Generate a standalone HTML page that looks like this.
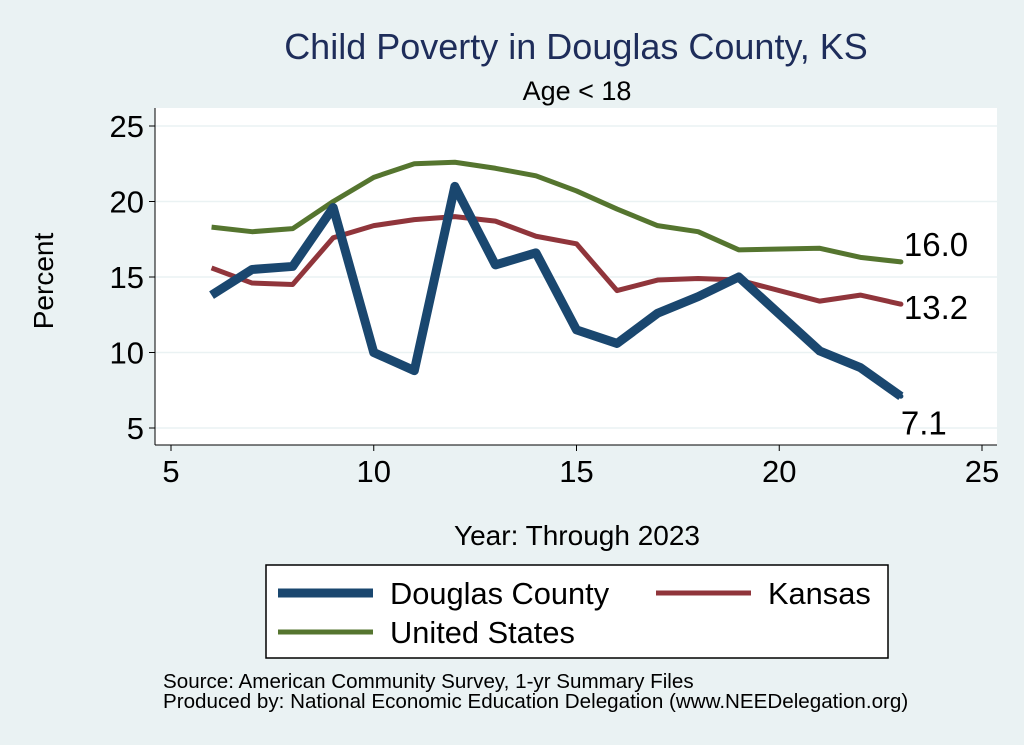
<!DOCTYPE html>
<html><head><meta charset="utf-8"><style>
body{margin:0;background:#eaf2f3;}
svg{display:block;font-family:"Liberation Sans",Arial,sans-serif;}
</style></head><body>
<svg id="chart" width="1024" height="745" viewBox="0 0 1024 745">
<rect x="0" y="0" width="1024" height="745" fill="#eaf2f3"/>
<rect x="155" y="108" width="842" height="337" fill="#ffffff"/>
<text x="576" y="59" font-size="36" fill="#1e2d5a" text-anchor="middle">Child Poverty in Douglas County, KS</text>
<text x="577" y="100" font-size="27" fill="#000" text-anchor="middle">Age &lt; 18</text>
<g id="grid"></g><g id="axes"></g><g id="series"></g>
<text x="577" y="545" font-size="28" text-anchor="middle">Year: Through 2023</text>
<text transform="translate(53,281) rotate(-90)" font-size="28" text-anchor="middle">Percent</text>
<g>
<rect x="266" y="565" width="622" height="93" fill="#fff" stroke="#000" stroke-width="1.5"/>
<line x1="278" y1="593" x2="373" y2="593" stroke="#1a476f" stroke-width="9"/>
<text x="390" y="604" font-size="30.8">Douglas County</text>
<line x1="656" y1="593" x2="751" y2="593" stroke="#90353b" stroke-width="5"/>
<text x="768" y="604" font-size="30.8">Kansas</text>
<line x1="278" y1="632" x2="373" y2="632" stroke="#55752f" stroke-width="5"/>
<text x="390" y="643" font-size="30.8">United States</text>
</g>
<text x="163" y="688" font-size="20.6">Source: American Community Survey, 1-yr Summary Files</text>
<text x="163" y="708" font-size="20.6">Produced by: National Economic Education Delegation (www.NEEDelegation.org)</text>
</svg>
<script>
const years=[6,7,8,9,10,11,12,13,14,15,16,17,18,19,21,22,23];
const douglas=[13.8,15.5,15.7,19.6,10.0,8.8,21.0,15.8,16.6,11.5,10.6,12.6,13.7,15.0,10.1,9.0,7.1];
const kansas=[15.6,14.6,14.5,17.6,18.4,18.8,19.0,18.7,17.7,17.2,14.1,14.8,14.9,14.8,13.4,13.8,13.2];
const us=[18.3,18.0,18.2,20.0,21.6,22.5,22.6,22.2,21.7,20.7,19.5,18.4,18.0,16.8,16.9,16.3,16.0];
const xTicks=[5,10,15,20,25];
const yTicks=[5,10,15,20,25];
const NS='http://www.w3.org/2000/svg';
function X(v){return 171+(v-5)*(982-171)/20;}
function Y(v){return 428-(v-5)*(428-126)/20;}
function mk(t,a,p){const e=document.createElementNS(NS,t);for(const k in a)e.setAttribute(k,a[k]);p.appendChild(e);return e;}
const grid=document.getElementById('grid'),axes=document.getElementById('axes'),ser=document.getElementById('series');
yTicks.forEach(v=>{
 const g=mk('line',{x1:155,x2:997,y1:Y(v),y2:Y(v),stroke:'#eaf2f3','stroke-width':1.5},grid);
 
 
 const t=mk('line',{x1:149,x2:155,y1:Y(v),y2:Y(v),stroke:'#000'},axes);
 
 
 const l=mk('text',{x:144,y:Y(v)+11,'font-size':31,'text-anchor':'end'},axes);l.textContent=v;
 
 
});
xTicks.forEach(v=>{
 const t=mk('line',{x1:X(v),x2:X(v),y1:445,y2:451,stroke:'#000'},axes);
 
 
 const l=mk('text',{x:X(v),y:482,'font-size':31,'text-anchor':'middle'},axes);l.textContent=v;
 
 
});
const ya=mk('line',{x1:155,x2:155,y1:108,y2:445,stroke:'#000'},axes);


const xa=mk('line',{x1:155,x2:997,y1:445,y2:445,stroke:'#000'},axes);


function line(vals,color,w,name,dy){
 const p=mk('polyline',{points:vals.map((v,i)=>X(years[i])+','+Y(v)).join(' '),fill:'none',stroke:color,'stroke-width':w,'stroke-linejoin':'round'},ser);
 
 
 const last=vals[vals.length-1];
 const d=mk('circle',{cx:X(years[years.length-1]),cy:Y(last),r:2.5,fill:color},ser);
 
 
 const t=mk('text',{x:X(years[years.length-1])+(dy>20?0:3),y:Y(last)+dy,'font-size':33},ser);
 t.textContent=last.toFixed(1);
 
 
}
line(us,'#55752f',5,'us-line',-6);
line(kansas,'#90353b',5,'kansas-line',15);
line(douglas,'#1a476f',9,'douglas-line',38);
</script>
</body></html>
